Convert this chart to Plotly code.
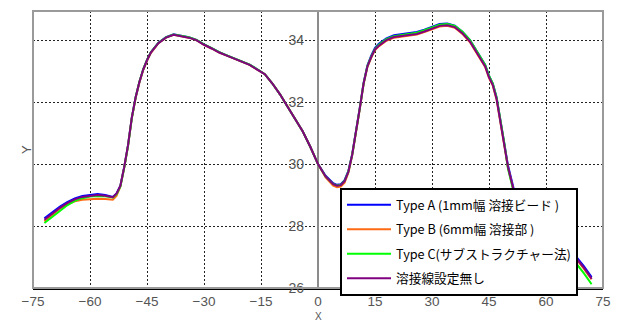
import plotly.graph_objects as go

X = [-72, -70, -68, -66, -64, -62, -60, -58, -56, -54, -53, -52, -51, -50, -49, -48, -47, -46, -45, -44,
     -42, -40, -38, -36, -34, -32, -30, -28, -26, -24, -22, -20, -18, -16, -14, -12, -10, -8, -6, -4,
     -2, 0, 2, 4, 5, 6, 7, 8, 9, 10, 11, 12, 13, 14, 15, 16, 18, 20, 22, 24,
     26, 28, 30, 32, 34, 36, 38, 40, 42, 44, 45, 46, 47, 48, 49, 50, 52, 54, 56, 58,
     60, 62, 64, 66, 68, 70, 72]

Y_A = [28.25, 28.44, 28.62, 28.77, 28.89, 28.97, 29.01, 29.03, 29.0, 28.94, 29.05, 29.3, 29.9, 30.6, 31.5, 32.15, 32.65, 33.05, 33.35, 33.6,
       33.92, 34.1, 34.19, 34.15, 34.09, 34.01, 33.86, 33.74, 33.61, 33.51, 33.41, 33.31, 33.21, 33.06, 32.9, 32.6, 32.25, 31.85, 31.45, 31.05,
       30.55, 30.0, 29.62, 29.38, 29.33, 29.35, 29.48, 29.78, 30.32, 31.02, 31.82, 32.62, 33.18, 33.5, 33.75, 33.88, 34.06, 34.16, 34.2, 34.22,
       34.26, 34.34, 34.44, 34.52, 34.54, 34.47, 34.27, 34.0, 33.6, 33.2, 32.85, 32.6, 32.15, 31.45, 30.75, 29.95, 28.95, 28.55, 28.25, 28.0,
       27.75, 27.55, 27.35, 27.2, 27.0, 26.7, 26.35]

Y_B = [28.15, 28.36, 28.55, 28.7, 28.8, 28.85, 28.87, 28.88, 28.87, 28.85, 28.98, 29.28, 29.88, 30.58, 31.48, 32.13, 32.63, 33.03, 33.33, 33.58,
       33.9, 34.08, 34.17, 34.13, 34.08, 34.0, 33.85, 33.73, 33.6, 33.5, 33.4, 33.3, 33.2, 33.05, 32.9, 32.6, 32.25, 31.85, 31.45, 31.05,
       30.55, 30.0, 29.57, 29.3, 29.25, 29.27, 29.4, 29.72, 30.28, 30.98, 31.78, 32.58, 33.13, 33.43, 33.68, 33.8, 33.98, 34.08, 34.12, 34.15,
       34.18, 34.26, 34.36, 34.44, 34.46, 34.4, 34.2, 33.93, 33.53, 33.13, 32.78, 32.53, 32.08, 31.38, 30.68, 29.88, 28.88, 28.48, 28.18, 27.93,
       27.68, 27.48, 27.28, 27.13, 26.93, 26.62, 26.28]

Y_C = [28.1, 28.3, 28.5, 28.67, 28.81, 28.9, 28.95, 28.97, 28.96, 28.92, 29.03, 29.28, 29.88, 30.58, 31.48, 32.15, 32.66, 33.06, 33.36, 33.61,
       33.91, 34.09, 34.18, 34.14, 34.09, 34.01, 33.86, 33.74, 33.61, 33.51, 33.41, 33.31, 33.21, 33.06, 32.9, 32.6, 32.25, 31.85, 31.45, 31.05,
       30.55, 30.0, 29.6, 29.36, 29.31, 29.33, 29.46, 29.76, 30.3, 31.0, 31.8, 32.6, 33.16, 33.47, 33.72, 33.85, 34.03, 34.13, 34.17, 34.2,
       34.24, 34.32, 34.42, 34.5, 34.52, 34.46, 34.27, 34.0, 33.6, 33.2, 32.85, 32.6, 32.15, 31.45, 30.7, 29.85, 28.85, 28.42, 28.1, 27.83,
       27.57, 27.36, 27.15, 26.98, 26.78, 26.47, 26.12]

Y_N = [28.2, 28.4, 28.58, 28.74, 28.86, 28.94, 28.98, 29.0, 28.98, 28.93, 29.05, 29.3, 29.9, 30.6, 31.5, 32.15, 32.65, 33.05, 33.35, 33.6,
       33.9, 34.08, 34.17, 34.13, 34.08, 34.0, 33.85, 33.73, 33.6, 33.5, 33.4, 33.3, 33.2, 33.05, 32.9, 32.6, 32.25, 31.85, 31.45, 31.05,
       30.55, 30.0, 29.6, 29.35, 29.3, 29.32, 29.45, 29.75, 30.3, 31.0, 31.8, 32.6, 33.15, 33.45, 33.7, 33.82, 34.0, 34.1, 34.14, 34.17,
       34.2, 34.28, 34.38, 34.46, 34.48, 34.42, 34.22, 33.95, 33.55, 33.15, 32.8, 32.55, 32.1, 31.4, 30.7, 29.9, 28.9, 28.5, 28.2, 27.95,
       27.7, 27.5, 27.3, 27.15, 26.95, 26.65, 26.3]

NAMES = ["Type A (1mm幅 溶接ビード )", "Type B (6mm幅 溶接部 )", "Type C(サブストラクチャー法)", "溶接線設定無し"]
COLORS = ["#0000ff", "#ff6a13", "#00ff00", "#800080"]
SERIES = [Y_A, Y_B, Y_C, Y_N]

X_TICKS = [-75, -60, -45, -30, -15, 0, 15, 30, 45, 60, 75]
Y_TICKS = [26, 28, 30, 32, 34]

fig = go.Figure()
for name, col, ys in zip(NAMES, COLORS, SERIES):
    fig.add_trace(go.Scatter(x=X, y=ys, mode="lines", name=name, legendgroup=name,
                             line=dict(color=col, width=2)))

tickfont = dict(family="Liberation Sans, Arial, sans-serif", size=14, color="#555555")
xtickfont = dict(family="Liberation Sans, Arial, sans-serif", size=13.5, color="#555555")

fig.update_layout(
    width=621, height=323,
    margin=dict(l=33, r=18, t=11, b=35),
    paper_bgcolor="white", plot_bgcolor="white",
    showlegend=True,
    legend=dict(x=0.5386, y=0.361, xanchor="left", yanchor="top",
                bgcolor="white", bordercolor="black", borderwidth=2,
                font=dict(family="Noto Sans CJK JP", size=12.7, color="black"),
                traceorder="grouped", tracegroupgap=5, itemwidth=44),
    xaxis=dict(range=[-75, 75], tickvals=X_TICKS, tickfont=xtickfont,
               showgrid=True, gridcolor="#222222", griddash="2px,2px", gridwidth=1,
               zeroline=True, zerolinecolor="#8c8c8c", zerolinewidth=2,
               showline=True, linecolor="black", linewidth=2, ticks="", ticklabelstandoff=0),
    yaxis=dict(range=[26, 34.94], tickvals=Y_TICKS, tickfont=tickfont,
               anchor="free", position=0.5, ticklabelstandoff=14,
               showgrid=True, gridcolor="#222222", griddash="2px,2px", gridwidth=1,
               zeroline=False, showline=False, ticks=""),
    shapes=[dict(type="rect", xref="paper", yref="paper", x0=0, x1=1, y0=0, y1=1,
                 line=dict(color="#9a9a9a", width=2), layer="above")],
    annotations=[
        dict(text="Y", xref="paper", yref="paper", x=(17 - 33) / 570, y=0.5,
             showarrow=False, textangle=-90, font=dict(family="Liberation Sans", size=13, color="#555555")),
        dict(text="X", xref="x", yref="paper", x=0, y=(288 - 323) / 277, yanchor="bottom",
             showarrow=False, borderpad=0, font=dict(family="Liberation Sans", size=10, color="#555555")),
    ],
)
fig.write_html("out.html")
